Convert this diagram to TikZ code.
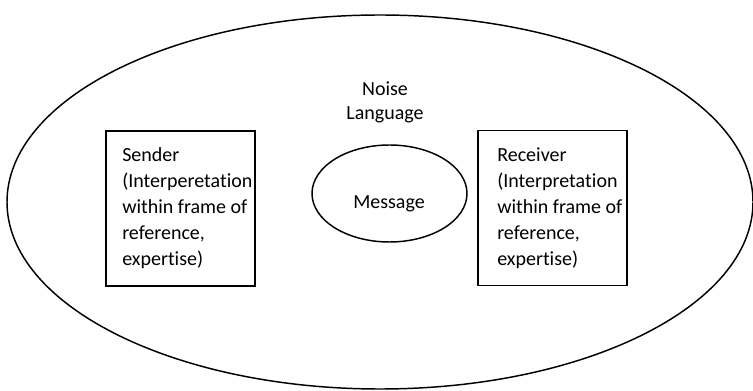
\documentclass[tikz,border=0pt]{standalone}
\usepackage{fontspec}
\setmainfont{Carlito}[Ligatures={NoCommon,NoRequired,NoContextual,NoRare},RawFeature={-liga;-clig;-dlig;-calt}]
\usetikzlibrary{shapes.geometric}
\begin{document}
\begin{tikzpicture}[x=0.75pt,y=-0.75pt,
  lw/.style={line width=1.1pt,draw=black},
  boxnode/.style={lw,rectangle,minimum width=111.75pt,minimum height=116.25pt,inner sep=0pt},
  txt/.style={font=\fontsize{15}{19.5}\selectfont,inner sep=0pt},
  boxtext/.style={txt,align=left,anchor=west}]
\useasboundingbox (0,0) rectangle (753,391);
\clip (0,0) rectangle (753,391);
\node[lw,ellipse,minimum width=559.5pt,minimum height=280.5pt,inner sep=0pt] (outer) at (380,202) {};
\node[txt] (noise) at (385,89) {Noise};
\node[txt] (lang) at (385,115) {Language};
\node[boxnode] (sender) at (180.5,208.5) {};
\node[boxnode] (receiver) at (552.5,208) {};
\node[boxtext] (sendertext) at (122,208.5) {Sender\\(Interpere\kern0pt tation\\within frame of\\reference,\\expertise)};
\node[boxtext] (receivertext) at (497,208.5) {Receiver\\(Interpreta\kern0pt tion\\within frame of\\reference,\\expertise)};
\node[lw,ellipse,minimum width=116.25pt,minimum height=72.75pt,inner sep=0pt] (msg) at (389.5,193.5) {};
\node[txt] (msgtext) at (389,204) {Message};
\end{tikzpicture}
\end{document}
